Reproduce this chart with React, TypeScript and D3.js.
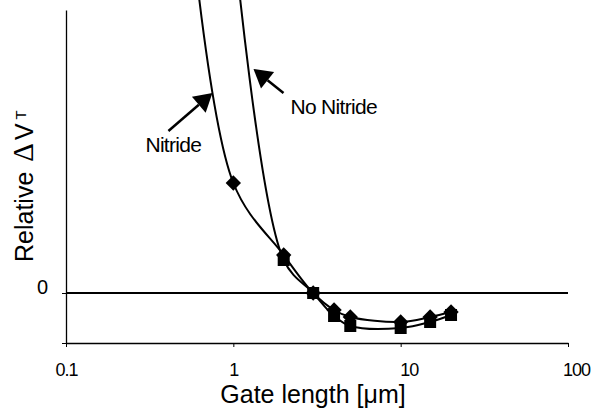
import * as d3 from 'd3';
import React, { useRef, useEffect } from 'react';

// gate length (um) and relative threshold shift
const xTicks = [0.1, 1, 10, 100];
const nitrideX = [0.5, 1, 2, 3, 4, 5, 10, 15, 20];
const nitrideY = [9.0, 2.2, 0.76, 0.0, -0.34, -0.48, -0.58, -0.48, -0.38];
const noNitrideX = [1, 2, 3, 4, 5, 10, 15, 20];
const noNitrideY = [7.2, 0.66, 0.0, -0.46, -0.66, -0.7, -0.58, -0.44];

const FONT = "'Liberation Sans', Arial, sans-serif";

function Chart() {
  const svgRef = useRef<SVGSVGElement>(null);

  useEffect(() => {
    const svg = d3.select(svgRef.current);
    svg.selectAll('*').remove();

    const width = 592,
      height = 414;
    svg.attr('width', width).attr('height', height);

    let x = d3.scaleLog().domain([0.1, 100]).range([66, 568]);
    let y = d3.scaleLinear().domain([-1, 5.66]).range([343, 10]);
    const yTop = y.domain()[1];

    // y axis, only the 0 label is shown
    let yAx = svg
      .append('g')
      .attr('transform', 'translate(66,0)')
      .call(
        d3
          .axisLeft(y)
          .tickValues([-1, 0])
          .tickSizeInner(4)
          .tickSizeOuter(0)
          .tickPadding(14)
          .tickFormat((d) => (d === 0 ? '0' : ''))
      );
    yAx.select('.domain').attr('stroke', '#000').attr('stroke-width', 1.3);
    yAx.selectAll('.tick line').attr('stroke', '#000');
    yAx
      .selectAll('.tick text')
      .attr('dy', '0')
      .attr('font-family', FONT)
      .attr('font-size', 20)
      .attr('fill', '#000');

    // x axis
    let xAx = svg
      .append('g')
      .attr('transform', 'translate(0,343)')
      .call(
        d3
          .axisBottom(x)
          .tickValues(xTicks)
          .tickSizeInner(4)
          .tickSizeOuter(0)
          .tickPadding(16)
          .tickFormat((d) => String(d))
      );
    xAx.select('.domain').attr('stroke', '#000').attr('stroke-width', 1.3);
    xAx.selectAll('.tick line').attr('stroke', '#000');
    xAx
      .selectAll('.tick text')
      .attr('dy', '0.71em')
      .attr('dx', (d: any) => (d >= 10 ? 8 : 0))
      .attr('font-family', FONT)
      .attr('font-size', 18)
      .attr('letter-spacing', -1)
      .attr('fill', '#000');

    // zero line
    svg
      .append('line')
      .attr('x1', x(0.1))
      .attr('x2', x(100))
      .attr('y1', y(0))
      .attr('y2', y(0))
      .attr('stroke', '#000')
      .attr('stroke-width', 2);

    const series = [
      { xs: nitrideX, ys: nitrideY },
      { xs: noNitrideX, ys: noNitrideY },
    ];

    series.forEach((s) => {
      const pts: [number, number][] = s.xs.map((v, i) => [x(v), y(s.ys[i])]);
      svg
        .append('path')
        .attr('fill', 'none')
        .attr('stroke', '#000')
        .attr('stroke-width', 2)
        .attr('d', d3.line().curve(d3.curveCatmullRom.alpha(0.5))(pts));
    });

    // markers: squares for No Nitride, diamonds for Nitride on top
    noNitrideX.forEach((v, i) => {
      if (noNitrideY[i] > yTop) return;
      svg
        .append('rect')
        .attr('x', x(v) - 6)
        .attr('y', y(noNitrideY[i]) - 6)
        .attr('width', 12)
        .attr('height', 12)
        .attr('fill', '#000');
    });
    nitrideX.forEach((v, i) => {
      if (nitrideY[i] > yTop) return;
      svg
        .append('path')
        .attr('transform', 'translate(' + x(v) + ',' + y(nitrideY[i]) + ')')
        .attr('d', d3.symbol(d3.symbolDiamond2, 150)())
        .attr('fill', '#000');
    });

    // annotations with arrows
    const notes = [
      { text: 'Nitride', tx: 0.75, ty: 4.0, tail: [-44, 38], label: [-67, 59] },
      { text: 'No Nitride', tx: 1.32, ty: 4.48, tail: [30, 24], label: [37, 45] },
    ];
    notes.forEach((n) => {
      const tipX = x(n.tx),
        tipY = y(n.ty);
      const ax = tipX + n.tail[0],
        ay = tipY + n.tail[1];
      const len = Math.hypot(tipX - ax, tipY - ay);
      const ux = (tipX - ax) / len,
        uy = (tipY - ay) / len;
      const hl = 18,
        hw = 10.5;
      const bx = tipX - ux * hl,
        by = tipY - uy * hl;
      svg
        .append('line')
        .attr('x1', ax)
        .attr('y1', ay)
        .attr('x2', bx)
        .attr('y2', by)
        .attr('stroke', '#000')
        .attr('stroke-width', 2.5);
      svg
        .append('polygon')
        .attr(
          'points',
          [
            [tipX, tipY],
            [bx - uy * hw, by + ux * hw],
            [bx + uy * hw, by - ux * hw],
          ]
            .map((p) => p.join(','))
            .join(' ')
        )
        .attr('fill', '#000');
      svg
        .append('text')
        .attr('x', tipX + n.label[0])
        .attr('y', tipY + n.label[1])
        .attr('font-family', FONT)
        .attr('font-size', 21)
        .attr('letter-spacing', -0.7)
        .attr('fill', '#000')
        .text(n.text);
    });

    // axis titles
    svg
      .append('text')
      .attr('x', 313)
      .attr('y', 403)
      .attr('text-anchor', 'middle')
      .attr('font-family', FONT)
      .attr('font-size', 25)
      .attr('fill', '#000')
      .text('Gate length [μm]');

    let yt = svg
      .append('text')
      .attr('transform', 'translate(33,262) rotate(-90)')
      .attr('font-family', FONT)
      .attr('font-size', 25)
      .attr('fill', '#000');
    yt.append('tspan').text('Relative ');
    yt.append('tspan').attr('dx', 3).attr('font-size', 29).attr('font-family', "'Liberation Serif', serif").text('Δ');
    yt.append('tspan').attr('dx', 3).text('V');
    yt.append('tspan').attr('dx', 4).attr('dy', -7).attr('font-size', 15).text('T');
  }, []);

  return <svg ref={svgRef} style={{ position: 'absolute', left: 0, top: 0 }}></svg>;
}

export default function App() {
  return <Chart />;
}
